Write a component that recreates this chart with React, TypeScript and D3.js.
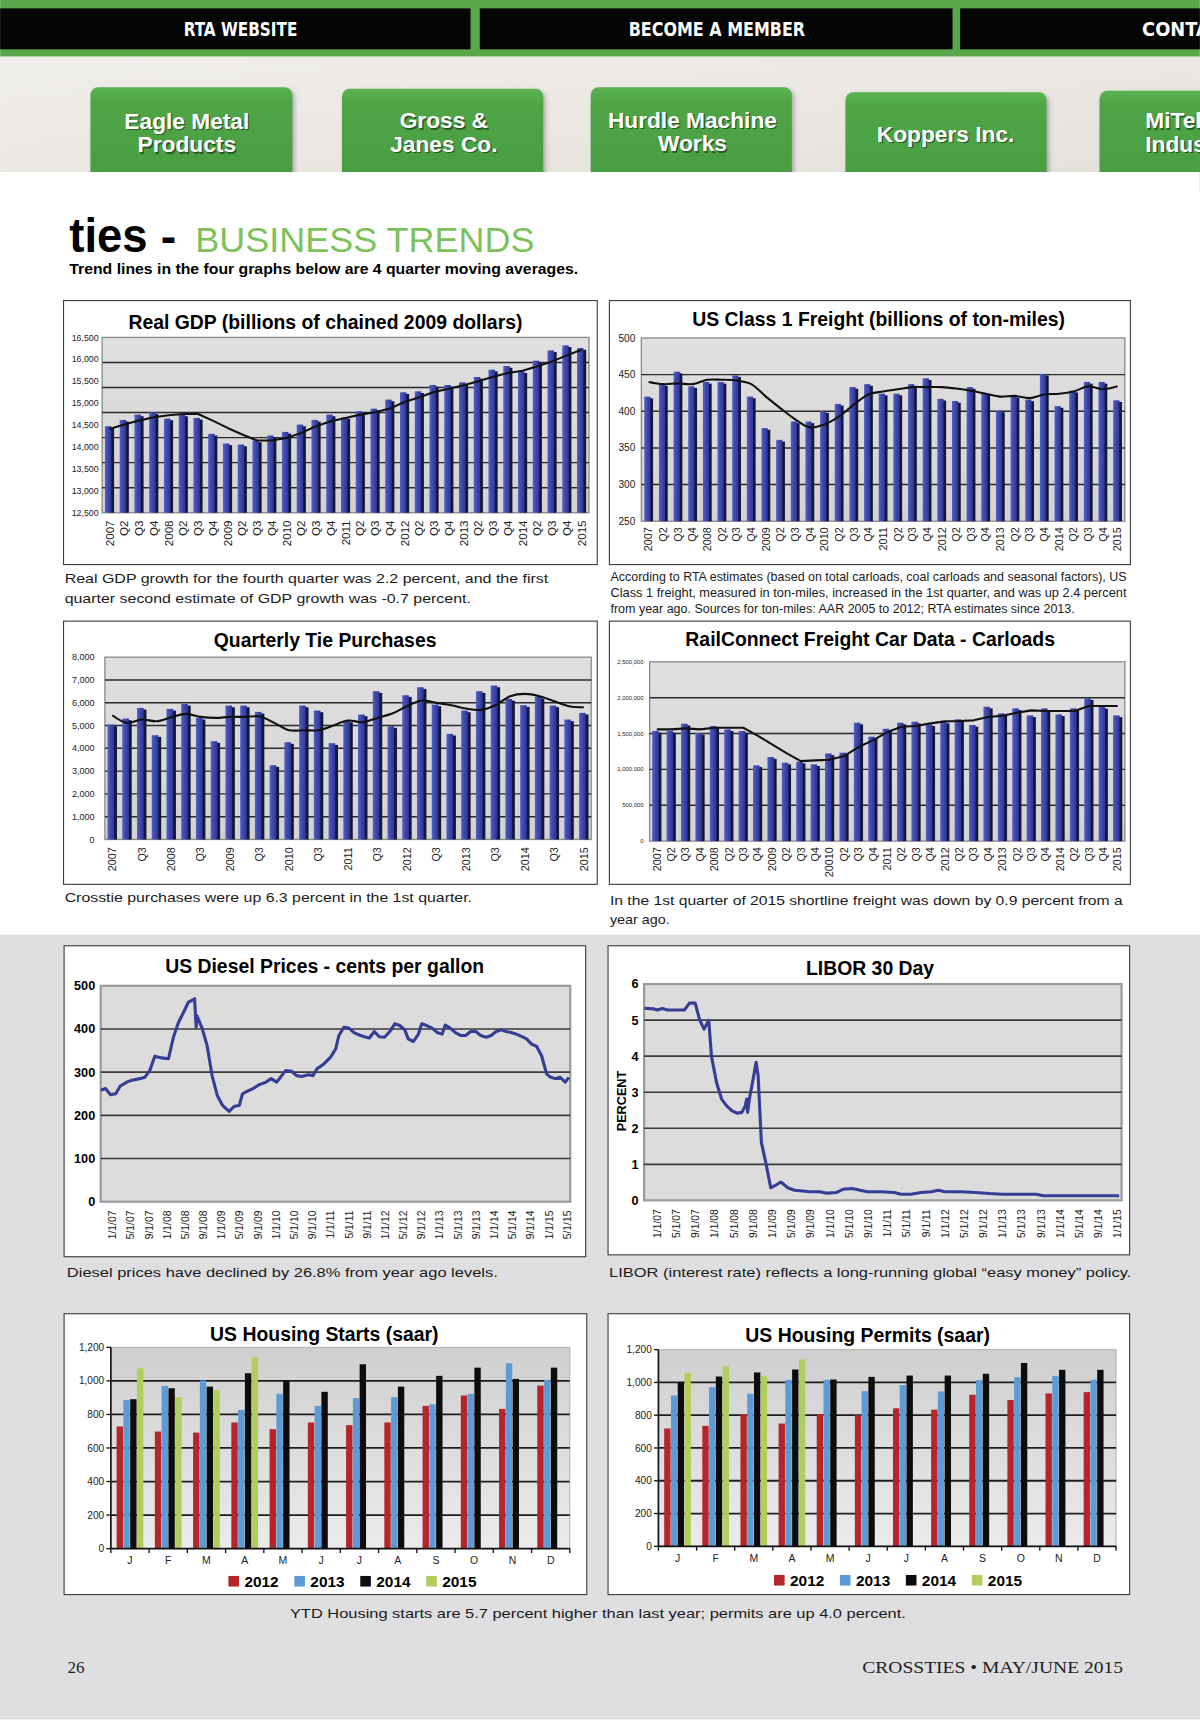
import React from 'react';
import * as d3 from 'd3';

const SANS = '"Liberation Sans", Arial, Helvetica, sans-serif';
const NARROW = '"Liberation Sans Narrow", "Arial Narrow", "DejaVu Sans Condensed", sans-serif';
const SERIF = '"Liberation Serif", "Times New Roman", serif';

// ---- data ----
const QUARTER_LABELS = ['2007', 'Q2', 'Q3', 'Q4', '2008', 'Q2', 'Q3', 'Q4', '2009', 'Q2', 'Q3', 'Q4', '2010', 'Q2', 'Q3', 'Q4', '2011', 'Q2', 'Q3', 'Q4', '2012', 'Q2', 'Q3', 'Q4', '2013', 'Q2', 'Q3', 'Q4', '2014', 'Q2', 'Q3', 'Q4', '2015'];
const CARLOAD_LABELS = ['2007', 'Q2', 'Q3', 'Q4', '2008', 'Q2', 'Q3', 'Q4', '2009', 'Q2', 'Q3', 'Q4', '20010', 'Q2', 'Q3', 'Q4', '2011', 'Q2', 'Q3', 'Q4', '2012', 'Q2', 'Q3', 'Q4', '2013', 'Q2', 'Q3', 'Q4', '2014', 'Q2', 'Q3', 'Q4', '2015'];
const TIE_LABELS = QUARTER_LABELS.map((l, i) => (i % 2 === 0 ? l : ''));

const GDP_VALUES = [14473, 14618, 14739, 14792, 14648, 14739, 14663, 14299, 14079, 14056, 14147, 14261, 14344, 14511, 14618, 14739, 14678, 14815, 14876, 15081, 15248, 15270, 15415, 15415, 15475, 15597, 15764, 15847, 15726, 15969, 16204, 16318, 16257];
const GDP_TREND = [14413, 14511, 14602, 14678, 14724, 14754, 14754, 14602, 14435, 14284, 14147, 14147, 14208, 14322, 14473, 14587, 14663, 14739, 14792, 14876, 15027, 15134, 15255, 15331, 15407, 15498, 15604, 15688, 15741, 15840, 15953, 16090, 16219];

const FREIGHT_VALUES = [420, 437, 454, 434, 440, 440, 449, 420, 377, 361, 386, 386, 400, 410, 433, 437, 424, 424, 437, 445, 417, 414, 433, 425, 401, 421, 416, 451, 407, 428, 440, 440, 415];
const FREIGHT_TREND = [440, 437, 438, 437, 443, 443, 442, 437, 420, 404, 389, 378, 382, 393, 409, 423, 427, 430, 433, 433, 433, 431, 428, 424, 420, 421, 418, 423, 424, 427, 434, 430, 434];

const TIE_VALUES = [5044, 5307, 5775, 4576, 5731, 5950, 5336, 4313, 5877, 5877, 5599, 3260, 4269, 5877, 5658, 4225, 5219, 5482, 6506, 4971, 6330, 6681, 5921, 4635, 5658, 6506, 6754, 6170, 5892, 6257, 5877, 5263, 5556];
const TIE_TREND = [5453, 5117, 5263, 5190, 5365, 5512, 5380, 5336, 5380, 5380, 5395, 5117, 4795, 4795, 4795, 5000, 5219, 5146, 5336, 5526, 5848, 6096, 5994, 5892, 5746, 5687, 5892, 6287, 6389, 6287, 6067, 5848, 5804];

const CARLOAD_VALUES = [1535000, 1535000, 1637000, 1507000, 1605000, 1558000, 1535000, 1056000, 1172000, 1093000, 1107000, 1070000, 1223000, 1233000, 1651000, 1456000, 1567000, 1651000, 1665000, 1628000, 1665000, 1698000, 1619000, 1874000, 1781000, 1851000, 1753000, 1851000, 1767000, 1851000, 1991000, 1870000, 1753000];
const CARLOAD_TREND = [1558000, 1558000, 1572000, 1558000, 1581000, 1581000, 1581000, 1470000, 1349000, 1228000, 1116000, 1126000, 1135000, 1186000, 1312000, 1405000, 1521000, 1595000, 1605000, 1642000, 1670000, 1674000, 1684000, 1730000, 1749000, 1791000, 1823000, 1814000, 1814000, 1814000, 1884000, 1884000, 1884000];

// months counted from 1 Jan 2007
const DIESEL_MONTHS = [-2.6, -1.5, -0.5, 0.7, 1.7, 3.35, 4.5, 6, 7.1, 8.2, 9.3, 10.8, 12.3, 13.4, 14.5, 15.6, 16.7, 17.8, 18.05, 18.4, 18.55, 19.7, 20.8, 21.9, 23.05, 24.2, 25.65, 26.8, 27.9, 28.6, 29.7, 30.9, 32.3, 33.8, 34.9, 36.1, 36.8, 38.1, 39.4, 40.5, 41.6, 43.1, 44.1, 45, 46.5, 48, 49.1, 49.8, 50.9, 52, 53.2, 54.3, 55.4, 56.5, 57.6, 58.7, 59.85, 61, 62.1, 63.2, 64.3, 65.05, 66.2, 67.3, 68.03, 69.1, 70.3, 71.4, 72.5, 73.2, 74.3, 75.5, 76.6, 77.7, 78.8, 79.9, 81, 82.2, 83.3, 84.4, 85.5, 86.6, 87.7, 88.8, 90, 91.1, 92.2, 93.3, 94.4, 95.5, 96.4, 97.4, 98.5, 99.6, 100.4];
const DIESEL_CENTS = [258, 262, 248, 250, 268, 278, 282, 285, 288, 304, 337, 333, 331, 381, 415, 438, 462, 468, 470, 404, 431, 402, 362, 292, 246, 223, 209, 221, 223, 250, 256, 262, 271, 277, 285, 277, 286, 304, 302, 292, 290, 294, 292, 308, 319, 335, 354, 385, 404, 402, 391, 386, 382, 379, 394, 382, 381, 394, 412, 408, 398, 377, 371, 388, 412, 408, 402, 392, 388, 409, 402, 391, 385, 385, 394, 394, 385, 381, 385, 394, 398, 394, 392, 388, 383, 377, 365, 360, 338, 296, 288, 285, 288, 277, 288];
const DIESEL_TICKS = ['1/1/07', '5/1/07', '9/1/07', '1/1/08', '5/1/08', '9/1/08', '1/1/09', '5/1/09', '9/1/09', '1/1/10', '5/1/10', '9/1/10', '1/1/11', '5/1/11', '9/1/11', '1/1/12', '5/1/12', '9/1/12', '1/1/13', '5/1/13', '9/1/13', '1/1/14', '5/1/14', '9/1/14', '1/1/15', '5/1/15'];

const LIBOR_MONTHS = [-2.7, -0.7, 0, 1.06, 2.12, 5.65, 6.7, 7.9, 8.82, 9.74, 10.73, 11.29, 12.35, 13.4, 14.47, 15.53, 16.58, 17.64, 18.35, 18.63, 18.84, 19.2, 20.1, 20.6, 21.03, 21.7, 22.6, 23.65, 24.7, 25.76, 27.2, 28.6, 30.3, 31.76, 33.9, 35.3, 37.4, 38.8, 40.6, 42.3, 43.75, 46.6, 49.4, 50.8, 52.9, 55, 57.2, 58.6, 60, 63.5, 66.3, 69.2, 72, 79, 80.5, 87.5, 96.3];
const LIBOR_RATES = [5.33, 5.31, 5.28, 5.32, 5.28, 5.28, 5.47, 5.47, 5.01, 4.75, 4.99, 4.0, 3.27, 2.81, 2.62, 2.49, 2.42, 2.44, 2.62, 2.81, 2.44, 2.81, 3.45, 3.83, 3.45, 1.61, 1.06, 0.35, 0.42, 0.51, 0.35, 0.28, 0.26, 0.24, 0.24, 0.2, 0.22, 0.31, 0.33, 0.28, 0.24, 0.24, 0.22, 0.17, 0.17, 0.22, 0.24, 0.28, 0.24, 0.24, 0.22, 0.19, 0.17, 0.17, 0.13, 0.13, 0.13];
const LIBOR_TICKS = DIESEL_TICKS.slice(0, 25);

const MONTHS = ['J', 'F', 'M', 'A', 'M', 'J', 'J', 'A', 'S', 'O', 'N', 'D'];
const YEARS = ['2012', '2013', '2014', '2015'];
const YEAR_COLORS = ['#b5252b', '#5d9bd6', '#0c0c0c', '#b2cd5c'];
const STARTS_2012 = [728, 698, 692, 752, 712, 752, 736, 752, 851, 913, 833, 972];
const STARTS_2013 = [887, 970, 1002, 827, 923, 851, 897, 903, 861, 923, 1105, 1006];
const STARTS_2014 = [891, 956, 966, 1046, 1002, 935, 1099, 966, 1030, 1079, 1012, 1079];
const STARTS_2015 = [1075, 903, 946, 1139];
const PERMITS_2012 = [719, 735, 804, 749, 806, 800, 842, 834, 925, 893, 933, 941];
const PERMITS_2013 = [921, 972, 931, 1016, 1016, 947, 984, 945, 1014, 1032, 1040, 1016];
const PERMITS_2014 = [1002, 1036, 1061, 1079, 1018, 1034, 1042, 1042, 1053, 1119, 1077, 1077];
const PERMITS_2015 = [1059, 1099, 1038, 1140];

type Box = { x0: number; y0: number; x1: number; y1: number };

function Frame({ box }: { box: Box }) {
  return <rect x={box.x0} y={box.y0} width={box.x1 - box.x0} height={box.y1 - box.y0} fill="#fff" stroke="#3c3c3c" strokeWidth={1} />;
}

function Caption({ x, y, text, width, size = 12.3 }: { x: number; y: number; text: string; width?: number; size?: number }) {
  return (
    <text x={x} y={y} fontSize={size} fill="#1a1a1a" textLength={width} lengthAdjust={width ? 'spacingAndGlyphs' : undefined}>
      {text}
    </text>
  );
}

interface QuarterProps {
  box: Box; plot: Box; title: string; titleX: number; titleY: number;
  values: number[]; trend: number[]; labels: string[];
  domain: [number, number]; ticks: number[]; tickSize: number; tickX: number;
  gridCount: number; barFrac: number; smooth: boolean; xLabelSize: number; xLabelGap: number;
}

function QuarterChart(p: QuarterProps) {
  const { box, plot, values, domain } = p;
  const x = d3.scaleBand<number>().domain(d3.range(values.length)).range([plot.x0, plot.x1])
    .paddingInner(1 - p.barFrac).paddingOuter((1 - p.barFrac) / 2);
  const y = d3.scaleLinear().domain(domain).range([plot.y1, plot.y0]);
  const bw = x.bandwidth();
  const grid = d3.range(1, p.gridCount).map(i => domain[0] + ((domain[1] - domain[0]) * i) / p.gridCount);
  const line = d3.line<number>()
    .x((_, i) => (x(i) ?? 0) + bw / 2)
    .y(d => y(d))
    .curve(p.smooth ? d3.curveCatmullRom.alpha(0.5) : d3.curveLinear);
  const fmt = d3.format(',');
  return (
    <g>
      <Frame box={box} />
      <text x={p.titleX} y={p.titleY} textAnchor="middle" fontWeight="bold" fontSize={17.6}>{p.title}</text>
      <rect x={plot.x0} y={plot.y0} width={plot.x1 - plot.x0} height={plot.y1 - plot.y0} fill="url(#plotGrey)" stroke="#8a8a8a" strokeWidth={1.2} />
      {grid.map(v => (
        <line key={v} x1={plot.x0} x2={plot.x1} y1={y(v)} y2={y(v)} stroke="#2a2a2a" strokeWidth={1.3} />
      ))}
      {values.map((v, i) => {
        const bx = x(i) ?? 0;
        const top = y(v);
        return (
          <g key={i}>
            <rect x={bx + bw * 0.58} y={top + 1.5} width={bw * 0.42} height={plot.y1 - top - 1.5} fill="#15163a" />
            <rect x={bx} y={top} width={bw * 0.7} height={plot.y1 - top} fill="url(#barBlue)" />
          </g>
        );
      })}
      <path d={line(p.trend) ?? ''} fill="none" stroke="#111" strokeWidth={1.9} strokeLinejoin="round" />
      {p.ticks.map(t => (
        <text key={t} x={p.tickX} y={y(t)} dy="0.35em" textAnchor="end" fontSize={p.tickSize} fill="#222">{fmt(t)}</text>
      ))}
      {p.labels.map((l, i) => l ? (
        <text key={i} transform={`translate(${(x(i) ?? 0) + bw / 2},${plot.y1 + p.xLabelGap}) rotate(-90)`} textAnchor="end" dy="0.35em" fontSize={p.xLabelSize} fill="#222">{l}</text>
      ) : null)}
    </g>
  );
}

interface LineProps {
  box: Box; plot: Box; title: string; titleX: number; titleY: number;
  months: number[]; values: number[]; xDomain: [number, number]; yMax: number; yStep: number;
  tickLabels: string[]; yLabel?: string; yLabelX?: number;
}

function LineChart(p: LineProps) {
  const { box, plot } = p;
  const x = d3.scaleLinear().domain(p.xDomain).range([plot.x0, plot.x1]);
  const y = d3.scaleLinear().domain([0, p.yMax]).range([plot.y1, plot.y0]);
  const yt = d3.range(0, p.yMax + p.yStep / 2, p.yStep);
  const line = d3.line<number>().x((_, i) => x(p.months[i])).y(d => y(d));
  return (
    <g>
      <Frame box={box} />
      <text x={p.titleX} y={p.titleY} textAnchor="middle" fontWeight="bold" fontSize={17.6}>{p.title}</text>
      <rect x={plot.x0} y={plot.y0} width={plot.x1 - plot.x0} height={plot.y1 - plot.y0} fill="#dcdcdc" stroke="#9a9a9a" strokeWidth={2} />
      {yt.slice(1, -1).map(v => (
        <line key={v} x1={plot.x0} x2={plot.x1} y1={y(v)} y2={y(v)} stroke="#3a3a3a" strokeWidth={1.5} />
      ))}
      <path d={line(p.values) ?? ''} fill="none" stroke="#363d94" strokeWidth={2.8} strokeLinejoin="round" />
      {yt.map(v => (
        <text key={v} x={plot.x0 - 5} y={y(v)} dy="0.35em" textAnchor="end" fontSize={11.5} fontWeight="bold">{v}</text>
      ))}
      {p.tickLabels.map((l, i) => (
        <text key={i} transform={`translate(${x(i * 4)},${plot.y1 + 8}) rotate(-90)`} textAnchor="end" dy="0.35em" fontSize={9.4} fill="#222">{l}</text>
      ))}
      {p.yLabel && (
        <text transform={`translate(${p.yLabelX},${(plot.y0 + plot.y1) / 2 + 8}) rotate(-90)`} textAnchor="middle" fontSize={11.5} fontWeight="bold">{p.yLabel}</text>
      )}
    </g>
  );
}

interface HousingProps {
  box: Box; plot: Box; title: string; titleX: number; titleY: number;
  series: number[][]; legendX: number; legendY: number;
}

function HousingChart(p: HousingProps) {
  const { box, plot } = p;
  const x0 = d3.scaleBand<number>().domain(d3.range(MONTHS.length)).range([plot.x0, plot.x1]).paddingInner(0.28).paddingOuter(0.14);
  const x1 = d3.scaleBand<number>().domain(d3.range(YEARS.length)).range([0, x0.bandwidth()]).padding(0.06);
  const y = d3.scaleLinear().domain([0, 1200]).range([plot.y1, plot.y0]);
  const yt = d3.range(0, 1201, 200);
  const edges = d3.range(MONTHS.length + 1).map(i => plot.x0 + i * x0.step());
  const fmt = d3.format(',');
  return (
    <g>
      <Frame box={box} />
      <text x={p.titleX} y={p.titleY} textAnchor="middle" fontWeight="bold" fontSize={17.6}>{p.title}</text>
      <rect x={plot.x0} y={plot.y0} width={plot.x1 - plot.x0} height={plot.y1 - plot.y0} fill="url(#houseGrey)" stroke="#b5b5b5" strokeWidth={1} />
      {yt.slice(1, -1).map(v => (
        <line key={v} x1={plot.x0} x2={plot.x1} y1={y(v)} y2={y(v)} stroke="#1e1e1e" strokeWidth={1.6} />
      ))}
      {p.series.map((vals, s) => vals.map((v, m) => (
        <rect key={`${s}-${m}`} x={(x0(m) ?? 0) + (x1(s) ?? 0)} y={y(v)} width={x1.bandwidth()} height={plot.y1 - y(v)} fill={YEAR_COLORS[s]} />
      )))}
      <line x1={plot.x0} x2={plot.x0} y1={plot.y0} y2={plot.y1} stroke="#111" strokeWidth={1.5} />
      <line x1={plot.x0} x2={plot.x1} y1={plot.y1} y2={plot.y1} stroke="#111" strokeWidth={1.6} />
      {yt.map(v => (
        <g key={v}>
          <line x1={plot.x0 - 4} x2={plot.x0} y1={y(v)} y2={y(v)} stroke="#111" strokeWidth={1.2} />
          <text x={plot.x0 - 6} y={y(v)} dy="0.35em" textAnchor="end" fontSize={9.2} fill="#222">{fmt(v)}</text>
        </g>
      ))}
      {edges.map((e, i) => (
        <line key={i} x1={e} x2={e} y1={plot.y1} y2={plot.y1 + 4} stroke="#111" strokeWidth={1.2} />
      ))}
      {MONTHS.map((m, i) => (
        <text key={i} x={(x0(i) ?? 0) + x0.bandwidth() / 2} y={plot.y1 + 14} textAnchor="middle" fontSize={9.5} fill="#222">{m}</text>
      ))}
      {YEARS.map((yr, i) => (
        <g key={yr} transform={`translate(${p.legendX + i * 59.8},${p.legendY})`}>
          <rect x={0} y={-4.8} width={9.6} height={9.6} fill={YEAR_COLORS[i]} />
          <text x={14.5} y={5} fontSize={14} fontWeight="bold">{yr}</text>
        </g>
      ))}
    </g>
  );
}

const BUTTONS = [
  { x0: 81.9, x1: 265, top: 79.2, cx: 169.3, lines: ['Eagle Metal', 'Products'], ys: [116.9, 138.1], anchor: 'middle' },
  { x0: 310, x1: 492.5, top: 80.5, cx: 402.4, lines: ['Gross &', 'Janes Co.'], ys: [116.3, 137.5], anchor: 'middle' },
  { x0: 535.6, x1: 718, top: 79.2, cx: 627.8, lines: ['Hurdle Machine', 'Works'], ys: [115.7, 136.9], anchor: 'middle' },
  { x0: 766.6, x1: 949, top: 83.7, cx: 857.4, lines: ['Koppers Inc.'], ys: [128.4], anchor: 'middle' },
  { x0: 997, x1: 1180, top: 82.2, cx: 1038.5, lines: ['MiTek', 'Industries'], ys: [116.3, 137.5], anchor: 'start' },
];

export default function App() {
  const starts = [STARTS_2012, STARTS_2013, STARTS_2014, STARTS_2015];
  const permits = [PERMITS_2012, PERMITS_2013, PERMITS_2014, PERMITS_2015];
  return (
    <svg width={1200} height={1729} viewBox="0 0 1088 1568" fontFamily={SANS}
      style={{ position: 'absolute', left: 0, top: 0, display: 'block' }}>
      <defs>
        <linearGradient id="paper" x1="0" y1="0" x2="1" y2="1">
          <stop offset="0" stopColor="#f0eeea" />
          <stop offset="0.5" stopColor="#ebe8e3" />
          <stop offset="1" stopColor="#e4e0da" />
        </linearGradient>
        <linearGradient id="btn" x1="0" y1="0" x2="0" y2="1">
          <stop offset="0" stopColor="#5cb352" />
          <stop offset="0.15" stopColor="#4fa546" />
          <stop offset="1" stopColor="#479c40" />
        </linearGradient>
        <linearGradient id="plotGrey" x1="0" y1="0" x2="0" y2="1">
          <stop offset="0" stopColor="#e0e0e0" />
          <stop offset="1" stopColor="#d3d3d3" />
        </linearGradient>
        <linearGradient id="houseGrey" x1="0" y1="0" x2="0" y2="1">
          <stop offset="0" stopColor="#cfcfcf" />
          <stop offset="1" stopColor="#ebebeb" />
        </linearGradient>
        <linearGradient id="barBlue" x1="0" y1="0" x2="1" y2="0">
          <stop offset="0" stopColor="#5360c6" />
          <stop offset="0.5" stopColor="#3c47ad" />
          <stop offset="1" stopColor="#2e3793" />
        </linearGradient>
        <filter id="soft" x="-10%" y="-10%" width="120%" height="130%">
          <feGaussianBlur stdDeviation="2" />
        </filter>
      </defs>

      <rect x={0} y={0} width={1088} height={1568} fill="#fff" />

      {/* header */}
      <rect x={0} y={0} width={1088} height={51.4} fill="#58a74a" />
      {[[0, 426.6], [435, 863.7], [870.6, 1088]].map(([a, b]) => (
        <rect key={a} x={a} y={7.6} width={b - a} height={37.1} fill="#050505" />
      ))}
      <g fontFamily={NARROW} fontWeight="bold" fontSize={18} fill="#fff">
        <text x={218} y={32.5} textAnchor="middle" textLength={103} lengthAdjust="spacingAndGlyphs">RTA WEBSITE</text>
        <text x={650} y={32.5} textAnchor="middle" textLength={160} lengthAdjust="spacingAndGlyphs">BECOME A MEMBER</text>
        <text x={1035.6} y={32.5}>CONTACT US</text>
      </g>
      <rect x={0} y={51.4} width={1088} height={106} fill="url(#paper)" />
      {BUTTONS.map(b => (
        <g key={b.lines[0]}>
          <rect x={b.x0 + 2} y={b.top + 2} width={b.x1 - b.x0} height={90} rx={7} fill="rgba(0,0,0,0.28)" filter="url(#soft)" />
          <rect x={b.x0} y={b.top} width={b.x1 - b.x0} height={90} rx={7} fill="url(#btn)" />
          {b.lines.map((l, i) => (
            <g key={l} fontSize={20.6} fontWeight="bold" textAnchor={b.anchor as any}>
              <text x={b.cx + 1.2} y={b.ys[i] + 1.4} fill="rgba(0,0,0,0.45)">{l}</text>
              <text x={b.cx} y={b.ys[i]} fill="#fff">{l}</text>
            </g>
          ))}
        </g>
      ))}
      <rect x={0} y={156} width={1088} height={692} fill="#fff" />
      <rect x={0} y={847.5} width={1088} height={712} fill="#dfdfe1" />

      {/* heading */}
      <text x={62.7} y={228.2} fontSize={44} fontWeight="bold" textLength={71} lengthAdjust="spacingAndGlyphs">ties</text>
      <text x={145.7} y={228.2} fontSize={42} fontWeight="bold">-</text>
      <text x={176.9} y={228.2} fontSize={31.5} fill="#7cc15a" textLength={307.6} lengthAdjust="spacingAndGlyphs">BUSINESS TRENDS</text>
      <text x={62.7} y={248.6} fontSize={12.8} fontWeight="bold" textLength={461.5} lengthAdjust="spacingAndGlyphs">Trend lines in the four graphs below are 4 quarter moving averages.</text>

      <QuarterChart box={{ x0: 57.5, y0: 272.6, x1: 541.5, y1: 512 }} plot={{ x0: 92.5, y0: 306, x1: 534, y1: 465 }}
        title="Real GDP (billions of chained 2009 dollars)" titleX={295} titleY={298.8}
        values={GDP_VALUES} trend={GDP_TREND} labels={QUARTER_LABELS} domain={[12500, 16500]}
        ticks={d3.range(12500, 16501, 500)} tickSize={8} tickX={89.3} gridCount={7} barFrac={0.62} smooth={false}
        xLabelSize={10.5} xLabelGap={7} />
      <Caption x={58.5} y={528.5} width={438.6} text="Real GDP growth for the fourth quarter was 2.2 percent, and the first" />
      <Caption x={58.5} y={546.5} width={368.4} text="quarter second estimate of GDP growth was -0.7 percent." />

      <QuarterChart box={{ x0: 552.5, y0: 272.6, x1: 1025, y1: 512 }} plot={{ x0: 581.5, y0: 306.5, x1: 1020, y1: 472.7 }}
        title="US Class 1 Freight (billions of ton-miles)" titleX={796.7} titleY={295.5}
        values={FREIGHT_VALUES} trend={FREIGHT_TREND} labels={QUARTER_LABELS} domain={[250, 500]}
        ticks={d3.range(250, 501, 50)} tickSize={9.2} tickX={576} gridCount={5} barFrac={0.6} smooth={true}
        xLabelSize={9.8} xLabelGap={5.5} />
      <Caption x={553.5} y={526.5} width={468} size={11} text="According to RTA estimates (based on total carloads, coal carloads and seasonal factors), US" />
      <Caption x={553.5} y={541} width={468} size={11} text="Class 1 freight, measured in ton-miles, increased in the 1st quarter, and was up 2.4 percent" />
      <Caption x={553.5} y={555.5} width={421} size={11} text="from year ago. Sources for ton-miles: AAR 2005 to 2012; RTA estimates since 2013." />

      <QuarterChart box={{ x0: 57.5, y0: 563.3, x1: 541.5, y1: 802 }} plot={{ x0: 95, y0: 596, x1: 536, y1: 761.3 }}
        title="Quarterly Tie Purchases" titleX={294.7} titleY={587}
        values={TIE_VALUES} trend={TIE_TREND} labels={TIE_LABELS} domain={[0, 8000]}
        ticks={d3.range(0, 8001, 1000)} tickSize={8.2} tickX={85.6} gridCount={8} barFrac={0.64} smooth={true}
        xLabelSize={9.8} xLabelGap={7} />
      <Caption x={58.5} y={818} width={369.4} text="Crosstie purchases were up 6.3 percent in the 1st quarter." />

      <QuarterChart box={{ x0: 552.5, y0: 563.3, x1: 1025, y1: 802 }} plot={{ x0: 589, y0: 600.2, x1: 1020, y1: 762.8 }}
        title="RailConnect Freight Car Data - Carloads" titleX={789} titleY={586.2}
        values={CARLOAD_VALUES} trend={CARLOAD_TREND} labels={CARLOAD_LABELS} domain={[0, 2500000]}
        ticks={d3.range(0, 2500001, 500000)} tickSize={5.4} tickX={583.6} gridCount={5} barFrac={0.64} smooth={false}
        xLabelSize={9.8} xLabelGap={5.5} />
      <Caption x={553} y={821} width={465} text="In the 1st quarter of 2015 shortline freight was down by 0.9 percent from a" />
      <Caption x={553} y={838.3} width={54.3} text="year ago." />

      <LineChart box={{ x0: 58, y0: 857.7, x1: 531, y1: 1139.7 }} plot={{ x0: 91.2, y0: 894, x1: 517, y1: 1089.8 }}
        title="US Diesel Prices - cents per gallon" titleX={294.3} titleY={882.8}
        months={DIESEL_MONTHS} values={DIESEL_CENTS} xDomain={[-2.6, 100.7]} yMax={500} yStep={100}
        tickLabels={DIESEL_TICKS} />
      <Caption x={60.5} y={1158.5} width={390.8} text="Diesel prices have declined by 26.8% from year ago levels." />

      <LineChart box={{ x0: 551.3, y0: 857.7, x1: 1024.3, y1: 1138 }} plot={{ x0: 584, y0: 892.4, x1: 1017, y1: 1088.6 }}
        title="LIBOR 30 Day" titleX={788.9} titleY={884.4}
        months={LIBOR_MONTHS} values={LIBOR_RATES} xDomain={[-2.75, 96.8]} yMax={6} yStep={1}
        tickLabels={LIBOR_TICKS} yLabel="PERCENT" yLabelX={567.5} />
      <Caption x={552.2} y={1158} width={473.6} text="LIBOR (interest rate) reflects a long-running global “easy money” policy." />

      <HousingChart box={{ x0: 58, y0: 1191.4, x1: 532, y1: 1446.1 }} plot={{ x0: 100.4, y0: 1221.9, x1: 516.6, y1: 1404.4 }}
        title="US Housing Starts (saar)" titleX={294} titleY={1216.2} series={starts} legendX={207} legendY={1434} />
      <HousingChart box={{ x0: 551.3, y0: 1191.4, x1: 1024.3, y1: 1446.1 }} plot={{ x0: 597, y0: 1224, x1: 1012, y1: 1402.3 }}
        title="US Housing Permits (saar)" titleX={786.7} titleY={1217.2} series={permits} legendX={701.8} legendY={1433.1} />
      <Caption x={262.8} y={1467.3} width={558.6} text="YTD Housing starts are 5.7 percent higher than last year; permits are up 4.0 percent." />

      {/* footer */}
      <text x={61} y={1517} fontFamily={SERIF} fontSize={15.5} fill="#222">26</text>
      <text x={781.8} y={1517} fontFamily={SERIF} fontSize={15.5} fill="#222" textLength={236.6} lengthAdjust="spacingAndGlyphs">CROSSTIES • MAY/JUNE 2015</text>
      <rect x={0} y={1559.5} width={1088} height={9} fill="#fff" />
    </svg>
  );
}
